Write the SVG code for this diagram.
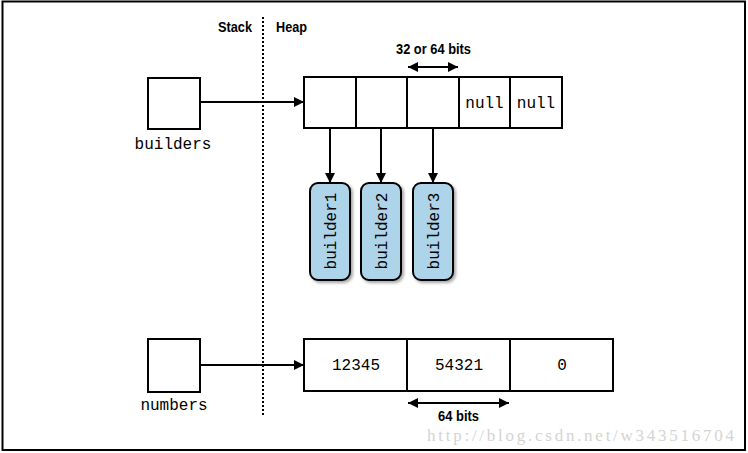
<svg xmlns="http://www.w3.org/2000/svg" width="748" height="453" viewBox="0 0 748 453">
<defs>
<marker id="ah" viewBox="0 0 10 10" refX="10" refY="5" markerWidth="10" markerHeight="10" markerUnits="userSpaceOnUse" orient="auto-start-reverse"><path d="M0,0 L10,5 L0,10 z" fill="#000"/></marker>
<filter id="sh" x="-30%" y="-10%" width="160%" height="130%"><feDropShadow dx="2" dy="2" stdDeviation="1.5" flood-color="#000" flood-opacity="0.35"/></filter>
</defs>
<style>
.box{fill:#fff;stroke:#000;stroke-width:2}
.pill{fill:#aed4ea;stroke:#000;stroke-width:2}
.mono{font-family:"Liberation Mono","DejaVu Sans Mono",monospace;font-size:16px;fill:#000}
.sans{font-family:"Liberation Sans","DejaVu Sans",sans-serif;font-size:15px;font-weight:bold;fill:#000}
.conn{stroke:#000;stroke-width:2;fill:none}
</style>
<rect x="0" y="0" width="748" height="453" fill="#fff"/>
<rect x="2.5" y="1.5" width="742.5" height="448.5" fill="none" stroke="#000" stroke-width="2"/>
<g id="divider">
<line x1="263" y1="17" x2="263" y2="415" stroke="#000" stroke-width="2" stroke-dasharray="2,2"/>
<text class="sans" x="218" y="32" textLength="34" lengthAdjust="spacingAndGlyphs">Stack</text>
<text class="sans" x="276" y="32" textLength="31" lengthAdjust="spacingAndGlyphs">Heap</text>
</g>
<g id="builders">
<rect class="box" x="148" y="78" width="52" height="51"/>
<text class="mono" x="173" y="149" text-anchor="middle">builders</text>
</g>
<g id="builders-array">
<rect class="box" x="304" y="77" width="258" height="51"/>
<line x1="356" y1="77" x2="356" y2="128" stroke="#000" stroke-width="2"/>
<line x1="407" y1="77" x2="407" y2="128" stroke="#000" stroke-width="2"/>
<line x1="459" y1="77" x2="459" y2="128" stroke="#000" stroke-width="2"/>
<line x1="510" y1="77" x2="510" y2="128" stroke="#000" stroke-width="2"/>
<text class="mono" x="484.5" y="108" text-anchor="middle">null</text>
<text class="mono" x="536" y="108" text-anchor="middle">null</text>
<text class="sans" x="396" y="54" textLength="75" lengthAdjust="spacingAndGlyphs">32 or 64 bits</text>
</g>
<g id="builder1">
<rect class="pill" x="310" y="183" width="40" height="97" rx="8" filter="url(#sh)"/>
<text class="mono" transform="translate(336,231) rotate(-90)" text-anchor="middle">builder1</text>
</g>
<g id="builder2">
<rect class="pill" x="361" y="183" width="40" height="97" rx="8" filter="url(#sh)"/>
<text class="mono" transform="translate(387,231) rotate(-90)" text-anchor="middle">builder2</text>
</g>
<g id="builder3">
<rect class="pill" x="413" y="183" width="40" height="97" rx="8" filter="url(#sh)"/>
<text class="mono" transform="translate(439,231) rotate(-90)" text-anchor="middle">builder3</text>
</g>
<g id="numbers">
<rect class="box" x="148" y="339" width="52" height="53"/>
<text class="mono" x="174" y="410" text-anchor="middle">numbers</text>
</g>
<g id="numbers-array">
<rect class="box" x="304" y="339" width="309" height="52"/>
<line x1="407" y1="339" x2="407" y2="391" stroke="#000" stroke-width="2"/>
<line x1="510" y1="339" x2="510" y2="391" stroke="#000" stroke-width="2"/>
<text class="mono" x="356" y="370" text-anchor="middle">12345</text>
<text class="mono" x="459" y="370" text-anchor="middle">54321</text>
<text class="mono" x="562" y="370" text-anchor="middle">0</text>
<text class="sans" x="438" y="421" textLength="41" lengthAdjust="spacingAndGlyphs">64 bits</text>
</g>
<g id="connectors">
<line class="conn" x1="200" y1="102" x2="304" y2="102" marker-end="url(#ah)"/>
<line class="conn" x1="408" y1="67" x2="458" y2="67" marker-start="url(#ah)" marker-end="url(#ah)"/>
<line class="conn" x1="330" y1="128" x2="330" y2="183" marker-end="url(#ah)"/>
<line class="conn" x1="381" y1="128" x2="381" y2="183" marker-end="url(#ah)"/>
<line class="conn" x1="433" y1="128" x2="433" y2="183" marker-end="url(#ah)"/>
<line class="conn" x1="200" y1="365" x2="304" y2="365" marker-end="url(#ah)"/>
<line class="conn" x1="408" y1="403" x2="509" y2="403" marker-start="url(#ah)" marker-end="url(#ah)"/>
</g>
<text x="427" y="441" font-family="Liberation Serif,serif" font-size="17" fill="#d4d4d4" textLength="307">http://blog.csdn.net/w343516704</text>
</svg>
